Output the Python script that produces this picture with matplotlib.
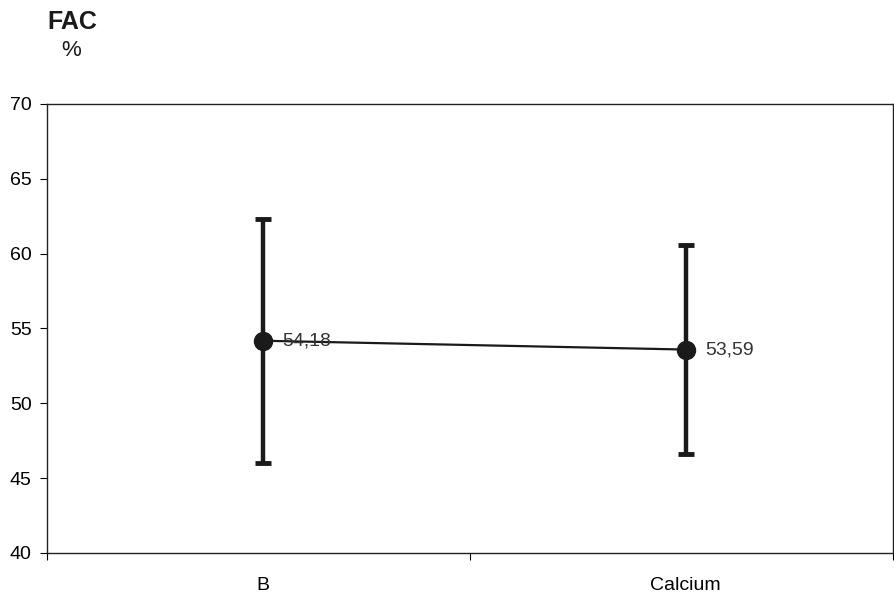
import numpy as np
import matplotlib.pyplot as plt

plt.rcParams['font.family'] = ['Liberation Sans', 'DejaVu Sans']

# 数据
categories = ['B', 'Calcium']
means = [54.18, 53.59]
sds = [8.16, 7.0]
labels = ['54,18', '53,59']

fig = plt.figure(figsize=(8.95, 6.06), dpi=100)
ax = fig.add_axes([0.0525, 0.0875, 0.9453, 0.741])

x = np.arange(len(categories))
ax.errorbar(x, means, yerr=sds, fmt='none', ecolor='#1a1a1a',
            elinewidth=3.2, capsize=6, capthick=3.5, zorder=2)
ax.plot(x, means, color='#1a1a1a', lw=1.6, marker='o', markersize=13,
        markerfacecolor='#1a1a1a', markeredgecolor='#1a1a1a', zorder=3)

for xi, m, lab in zip(x, means, labels):
    ax.annotate(lab, (xi, m), xytext=(14, 0), textcoords='offset points',
                va='center', ha='left', fontsize=14, color='#333333')

ax.set_xlim(-0.51, 1.49)
ax.set_ylim(40, 70)
ax.set_yticks(np.arange(40, 71, 5))
ax.set_xticks([-0.51, 0.49, 1.49])
ax.set_xticklabels([])
ax.set_xticks(x, minor=True)
ax.set_xticklabels(categories, minor=True)
ax.tick_params(axis='x', which='minor', length=0, pad=17, labelsize=14)
ax.tick_params(axis='x', which='major', length=5, direction='out')
ax.tick_params(axis='y', length=5, direction='out', labelsize=14, pad=6)

for s in ax.spines.values():
    s.set_color('#222222')
    s.set_linewidth(1.0)

fig.text(0.081, 0.963, 'FAC', fontsize=18, fontweight='bold', ha='center', va='center', color='#1a1a1a')
fig.text(0.080, 0.917, '%', fontsize=16, ha='center', va='center', color='#1a1a1a')

plt.savefig('out.png', dpi=100)
